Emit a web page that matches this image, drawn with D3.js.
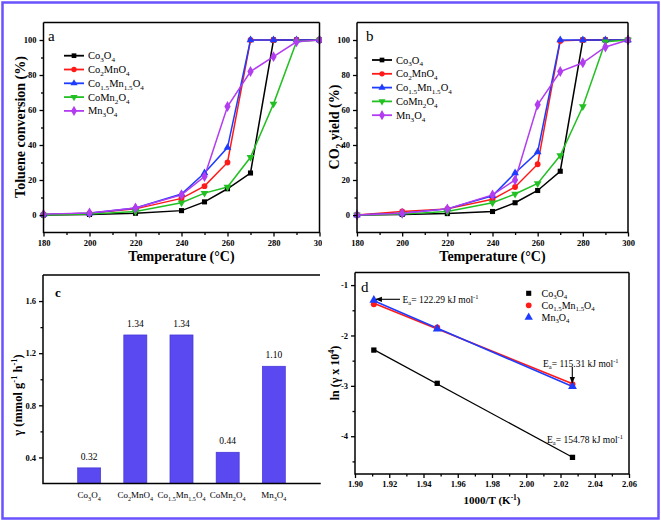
<!DOCTYPE html>
<html><head><meta charset="utf-8">
<script src="https://cdn.jsdelivr.net/npm/d3@7"></script>
<style>body{margin:0;background:#fff} svg{display:block}</style>
</head><body><svg id="c" width="661" height="522"></svg>
<script>
// ---------- DATA ----------
const temps = [180,200,220,240,250,260,270,280,290,300];
const seriesNames = ["Co3O4","Co2MnO4","Co1.5Mn1.5O4","CoMn2O4","Mn3O4"];
// panel a: toluene conversion (%)
const convCo3O4   = [0, 0.3, 1, 2.5, 7.5, 15, 24, 100, 100, 100];
const convCo2MnO4 = [0.3, 1, 3.5, 9.5, 16.5, 30, 100, 100, 100, 100];
const convCo15Mn15O4 = [0.3, 1, 4, 12, 24, 38.5, 100, 100, 100, 100];
const convCoMn2O4 = [0, 0.5, 2, 7, 12.5, 16, 33, 63.5, 99, 100];
const convMn3O4   = [0.5, 1.2, 4, 11.5, 22, 62, 82, 90.5, 99, 100];
// panel b: CO2 yield (%)
const yieldCo3O4   = [0, 0.3, 0.8, 2, 7, 14, 25, 100, 100, 100];
const yieldCo2MnO4 = [0, 2, 3.5, 9, 16, 29, 99.5, 100, 100, 100];
const yieldCo15Mn15O4 = [0, 1, 3.5, 11, 24, 36, 100, 100, 100, 100];
const yieldCoMn2O4 = [0, 0.5, 2, 7, 12, 18, 34, 62, 99, 100];
const yieldMn3O4   = [0, 1, 3.5, 11.5, 20, 63, 82, 87, 96, 100];
// panel c: reaction rate
const rateValues = [0.32, 1.34, 1.34, 0.44, 1.10];
const rateLabels = ["0.32","1.34","1.34","0.44","1.10"];
// panel d: Arrhenius
const invT = [1.911, 1.948, 2.027];
const lnCo3O4 = [-2.29, -2.95, -4.42];
const lnCo15Mn15O4 = [-1.38, -1.84, -2.97];
const lnMn3O4 = [-1.30, -1.87, -3.01];
const arrNames = ["Co3O4","Co1.5Mn1.5O4","Mn3O4"];
const eaLabels = ["122.29","115.31","154.78"];
// ticks
const tempTicks = [180,200,220,240,260,280,300];
const pctTicks = [0,20,40,60,80,100];
const rateTicks = [0.4,0.8,1.2,1.6];
const invTTicks = [1.90,1.92,1.94,1.96,1.98,2.00,2.02,2.04,2.06];
const lnTicks = [-1,-2,-3,-4];

// ---------- STYLE ----------
const colors = ["#000000","#ff1a1a","#1e3cff","#22c022","#b23cf0"];
const symbols = [d3.symbolSquare, d3.symbolCircle, d3.symbolTriangle, d3.symbolTriangle, d3.symbolDiamond];
const symRot = [0,0,0,180,0];
const FONT = "'Liberation Serif','Times New Roman',serif";

const svg = d3.select("#c").attr("font-family", FONT);

function rich(text, parts, fs){
  let off = 0;
  parts.forEach(([s,t])=>{
    const target = t==='sub' ? fs*0.28 : t==='sup' ? -fs*0.4 : 0;
    text.append('tspan').attr('dy', (target-off).toFixed(2)).attr('font-size', t==='n'?fs:fs*0.68).text(s);
    off = target;
  });
}
function chem(s){ return s.match(/\d+(\.\d+)?|[^\d]+/g).map(p=>[p, /^\d/.test(p)?'sub':'n']); }

function box(g, x0,x1,y0,y1, sides){
  const p = d3.path();
  if(sides.includes('l')){p.moveTo(x0,y1);p.lineTo(x0,y0);}
  if(sides.includes('t')){p.moveTo(x0,y0);p.lineTo(x1,y0);}
  if(sides.includes('r')){p.moveTo(x1,y0);p.lineTo(x1,y1);}
  if(sides.includes('b')){p.moveTo(x0-0.75,y1);p.lineTo(x1+0.75,y1);}
  g.append('path').attr('d',p.toString()).attr('fill','none').attr('stroke','#000').attr('stroke-width',1.5);
}
function styleAxis(a, fs){
  a.select('.domain').remove();
  a.selectAll('line').attr('stroke','#000').attr('stroke-width',1.3);
  a.selectAll('text').attr('font-family',FONT).attr('font-weight','bold').attr('font-size',fs).attr('fill','#000');
}
function axes(g, x, y, xt, xminor, yt, yminor, xfmt, yfmt, fs){
  const [xr0,xr1] = x.range(), [yr0,yr1] = y.range();
  const ax = g.append('g').attr('transform',`translate(0,${yr0})`)
    .call(d3.axisBottom(x).tickValues(xt).tickSize(4).tickPadding(3).tickFormat(xfmt));
  styleAxis(ax, fs);
  if(xminor){ const m = g.append('g').attr('transform',`translate(0,${yr0})`)
    .call(d3.axisBottom(x).tickValues(xminor).tickSize(2.5).tickFormat('')); styleAxis(m,fs); }
  const ay = g.append('g').attr('transform',`translate(${xr0},0)`)
    .call(d3.axisLeft(y).tickValues(yt).tickSize(4).tickPadding(3).tickFormat(yfmt));
  styleAxis(ay, fs);
  if(yminor){ const m = g.append('g').attr('transform',`translate(${xr0},0)`)
    .call(d3.axisLeft(y).tickValues(yminor).tickSize(2.5).tickFormat('')); styleAxis(m,fs); }
}

// outer frame
svg.append('rect').attr('x',2.5).attr('y',2.5).attr('width',656).attr('height',516)
  .attr('fill','none').attr('stroke','#6a52ff').attr('stroke-width',2.5);

// ---------- PANELS a & b ----------
function linePanel(cfg){
  const g = svg.append('g');
  if(cfg.clip){
    svg.append('clipPath').attr('id',cfg.id+'clip').append('rect').attr('x',0).attr('y',0).attr('width',cfg.clip).attr('height',270);
    g.attr('clip-path',`url(#${cfg.id}clip)`);
  }
  const x = d3.scaleLinear().domain([180,300]).range(cfg.xr);
  const y = d3.scaleLinear().domain([-10,110]).range([232.5,22.5]);
  const line = d3.line().x((d,i)=>x(temps[i])).y(d=>y(d));
  cfg.data.forEach((s,k)=>{
    g.append('path').attr('d',line(s)).attr('fill','none').attr('stroke',colors[k]).attr('stroke-width',1.5);
  });
  cfg.data.forEach((s,k)=>{
    g.selectAll(null).data(s).enter().append('path')
      .attr('d', d3.symbol().type(symbols[k]).size(k===4?34:26))
      .attr('transform',(d,i)=>`translate(${x(temps[i])},${y(d)}) rotate(${symRot[k]})`)
      .attr('fill',colors[k]);
  });
  box(g, cfg.xr[0], cfg.xr[1], 22.5, 232.5, 'ltrb');
  axes(g, x, y, tempTicks, d3.range(190,300,20), pctTicks, d3.range(10,110,20), d=>String(d), d=>String(d), 8.5);
  // legend
  seriesNames.forEach((n,k)=>{
    const yy = cfg.leg[1] + k*13.8;
    g.append('line').attr('x1',cfg.leg[0]).attr('x2',cfg.leg[0]+20).attr('y1',yy).attr('y2',yy).attr('stroke',colors[k]).attr('stroke-width',1.8);
    g.append('path').attr('d', d3.symbol().type(symbols[k]).size(k===4?30:22)).attr('transform',`translate(${cfg.leg[0]+10},${yy}) rotate(${symRot[k]})`).attr('fill',colors[k]);
    rich(g.append('text').attr('x',cfg.leg[0]+24).attr('y',yy+3.5).attr('fill','#000'), chem(n), 10.5);
  });
  g.append('text').attr('x',cfg.lab[0]).attr('y',cfg.lab[1]).attr('font-size',15).text(cfg.label);
  g.append('text').attr('x',(cfg.xr[0]+cfg.xr[1])/2).attr('y',261).attr('text-anchor','middle')
    .attr('font-weight','bold').attr('font-size',14).text('Temperature (°C)');
  const yt = g.append('text').attr('transform',`translate(${cfg.ytx},127) rotate(-90)`).attr('text-anchor','middle')
    .attr('font-weight','bold');
  rich(yt, cfg.ytitle, 14);
}
linePanel({id:'a', clip:322, xr:[43.5,319.5], data:[convCo3O4,convCo2MnO4,convCo15Mn15O4,convCoMn2O4,convMn3O4],
  leg:[64,55.7], lab:[48,41], label:'a', ytx:25, ytitle:[['Toluene conversion (%)','n']]});
linePanel({id:'b', xr:[357,628], data:[yieldCo3O4,yieldCo2MnO4,yieldCo15Mn15O4,yieldCoMn2O4,yieldMn3O4],
  leg:[372,60], lab:[366,41], label:'b', ytx:339, ytitle:[['CO','n'],['2','sub'],[' yield (%)','n']]});

// ---------- PANEL c ----------
(function(){
  const g = svg.append('g');
  const x = d3.scaleBand().domain(seriesNames).range([43,320]).paddingInner(0.5).paddingOuter(0.75);
  const y = d3.scaleLinear().domain([0.2,1.8]).range([483.5,275]);
  g.selectAll(null).data(rateValues).enter().append('rect')
    .attr('x',(d,i)=>x(seriesNames[i])).attr('width',x.bandwidth())
    .attr('y',d=>y(d)).attr('height',d=>y(0.2)-y(d))
    .attr('fill','#5a48f0').attr('stroke','#3c2fd0').attr('stroke-width',0.6);
  g.selectAll(null).data(rateValues).enter().append('text')
    .attr('x',(d,i)=>x(seriesNames[i])+x.bandwidth()/2).attr('y',d=>y(d)-8)
    .attr('text-anchor','middle').attr('font-size',9.5).text((d,i)=>rateLabels[i]);
  box(g, 43, 320, 275, 483.5, 'ltb');
  const ay = g.append('g').attr('transform','translate(43,0)')
    .call(d3.axisLeft(y).tickValues(rateTicks).tickSize(4).tickPadding(3).tickFormat(d3.format('.1f')));
  styleAxis(ay, 8.5);
  const my = g.append('g').attr('transform','translate(43,0)')
    .call(d3.axisLeft(y).tickValues([0.6,1.0,1.4]).tickSize(2.5).tickFormat(''));
  styleAxis(my, 8.5);
  seriesNames.forEach(n=>{
    rich(g.append('text').attr('x',x(n)+x.bandwidth()/2).attr('y',498).attr('text-anchor','middle'), chem(n), 9);
  });
  g.append('text').attr('x',55).attr('y',297).attr('font-size',13).attr('font-weight','bold').text('c');
  const yt = g.append('text').attr('transform','translate(22,395) rotate(-90)').attr('text-anchor','middle').attr('font-weight','bold');
  rich(yt, [['γ (mmol g','n'],['-1','sup'],[' h','n'],['-1','sup'],[')','n']], 12.5);
})();

// ---------- PANEL d ----------
(function(){
  const g = svg.append('g');
  const x = d3.scaleLinear().domain([1.90,2.06]).range([355,629]);
  const y = d3.scaleLinear().domain([-4.75,-0.75]).range([474,272.5]);
  const sets = [lnCo3O4, lnCo15Mn15O4, lnMn3O4];
  const cols = ["#000000","#ff1a1a","#1e3cff"];
  const syms = [d3.symbolSquare, d3.symbolCircle, d3.symbolTriangle];
  sets.forEach((s,k)=>{
    // least-squares fit line through the points
    const n = s.length, mx = d3.mean(invT), my = d3.mean(s);
    const b = d3.sum(invT.map((v,i)=>(v-mx)*(s[i]-my)))/d3.sum(invT.map(v=>(v-mx)**2));
    const a = my - b*mx;
    const x0 = invT[0], x1 = invT[n-1];
    g.append('line').attr('x1',x(x0)).attr('x2',x(x1)).attr('y1',y(a+b*x0)).attr('y2',y(a+b*x1))
      .attr('stroke',cols[k]).attr('stroke-width',k===0?1.2:1.6);
  });
  sets.forEach((s,k)=>{
    g.selectAll(null).data(s).enter().append('path')
      .attr('d',d3.symbol().type(syms[k]).size(k===2?34:28))
      .attr('transform',(d,i)=>`translate(${x(invT[i])},${y(d)})`).attr('fill',cols[k]);
  });
  box(g, 355, 629, 272.5, 474, 'ltrb');
  axes(g, x, y, invTTicks, d3.range(1.91,2.06,0.02), lnTicks, [-1.5,-2.5,-3.5,-4.5], d3.format('.2f'), d=>String(d), 8.5);
  // legend
  arrNames.forEach((n,k)=>{
    const yy = 293.3 + k*12;
    g.append('path').attr('d',d3.symbol().type(syms[k]).size(k===2?30:26)).attr('transform',`translate(528.7,${yy})`).attr('fill',cols[k]);
    rich(g.append('text').attr('x',541.5).attr('y',yy+3.3), chem(n), 10);
  });
  // annotations
  const defs = svg.append('defs');
  defs.append('marker').attr('id','ah').attr('viewBox','0 0 10 10').attr('refX',9).attr('refY',5)
    .attr('markerWidth',6).attr('markerHeight',6).attr('orient','auto-start-reverse')
    .append('path').attr('d','M0,1 L10,5 L0,9 z').attr('fill','#000');
  g.append('line').attr('x1',400).attr('y1',299.3).attr('x2',376).attr('y2',299.3).attr('stroke','#000').attr('stroke-width',1.1).attr('marker-end','url(#ah)');
  g.append('line').attr('x1',572.3).attr('y1',367).attr('x2',572.3).attr('y2',383).attr('stroke','#000').attr('stroke-width',1.1).attr('marker-end','url(#ah)');
  const eaPos = [[402.5,302.5],[543,366.5],[547,442.5]];
  eaLabels.forEach((v,k)=>{
    rich(g.append('text').attr('x',eaPos[k][0]).attr('y',eaPos[k][1]), [['E','n'],['a','sub'],['= '+v+' kJ mol','n'],['-1','sup']], 9.5);
  });
  g.append('text').attr('x',361).attr('y',292).attr('font-size',15).text('d');
  rich(g.append('text').attr('x',492).attr('y',504).attr('text-anchor','middle').attr('font-weight','bold'),
    [['1000/T (K','n'],['-1','sup'],[')','n']], 11);
  rich(g.append('text').attr('transform','translate(338.5,373) rotate(-90)').attr('text-anchor','middle').attr('font-weight','bold'),
    [['ln (γ x 10','n'],['4','sup'],[')','n']], 12);
})();
</script></body></html>
